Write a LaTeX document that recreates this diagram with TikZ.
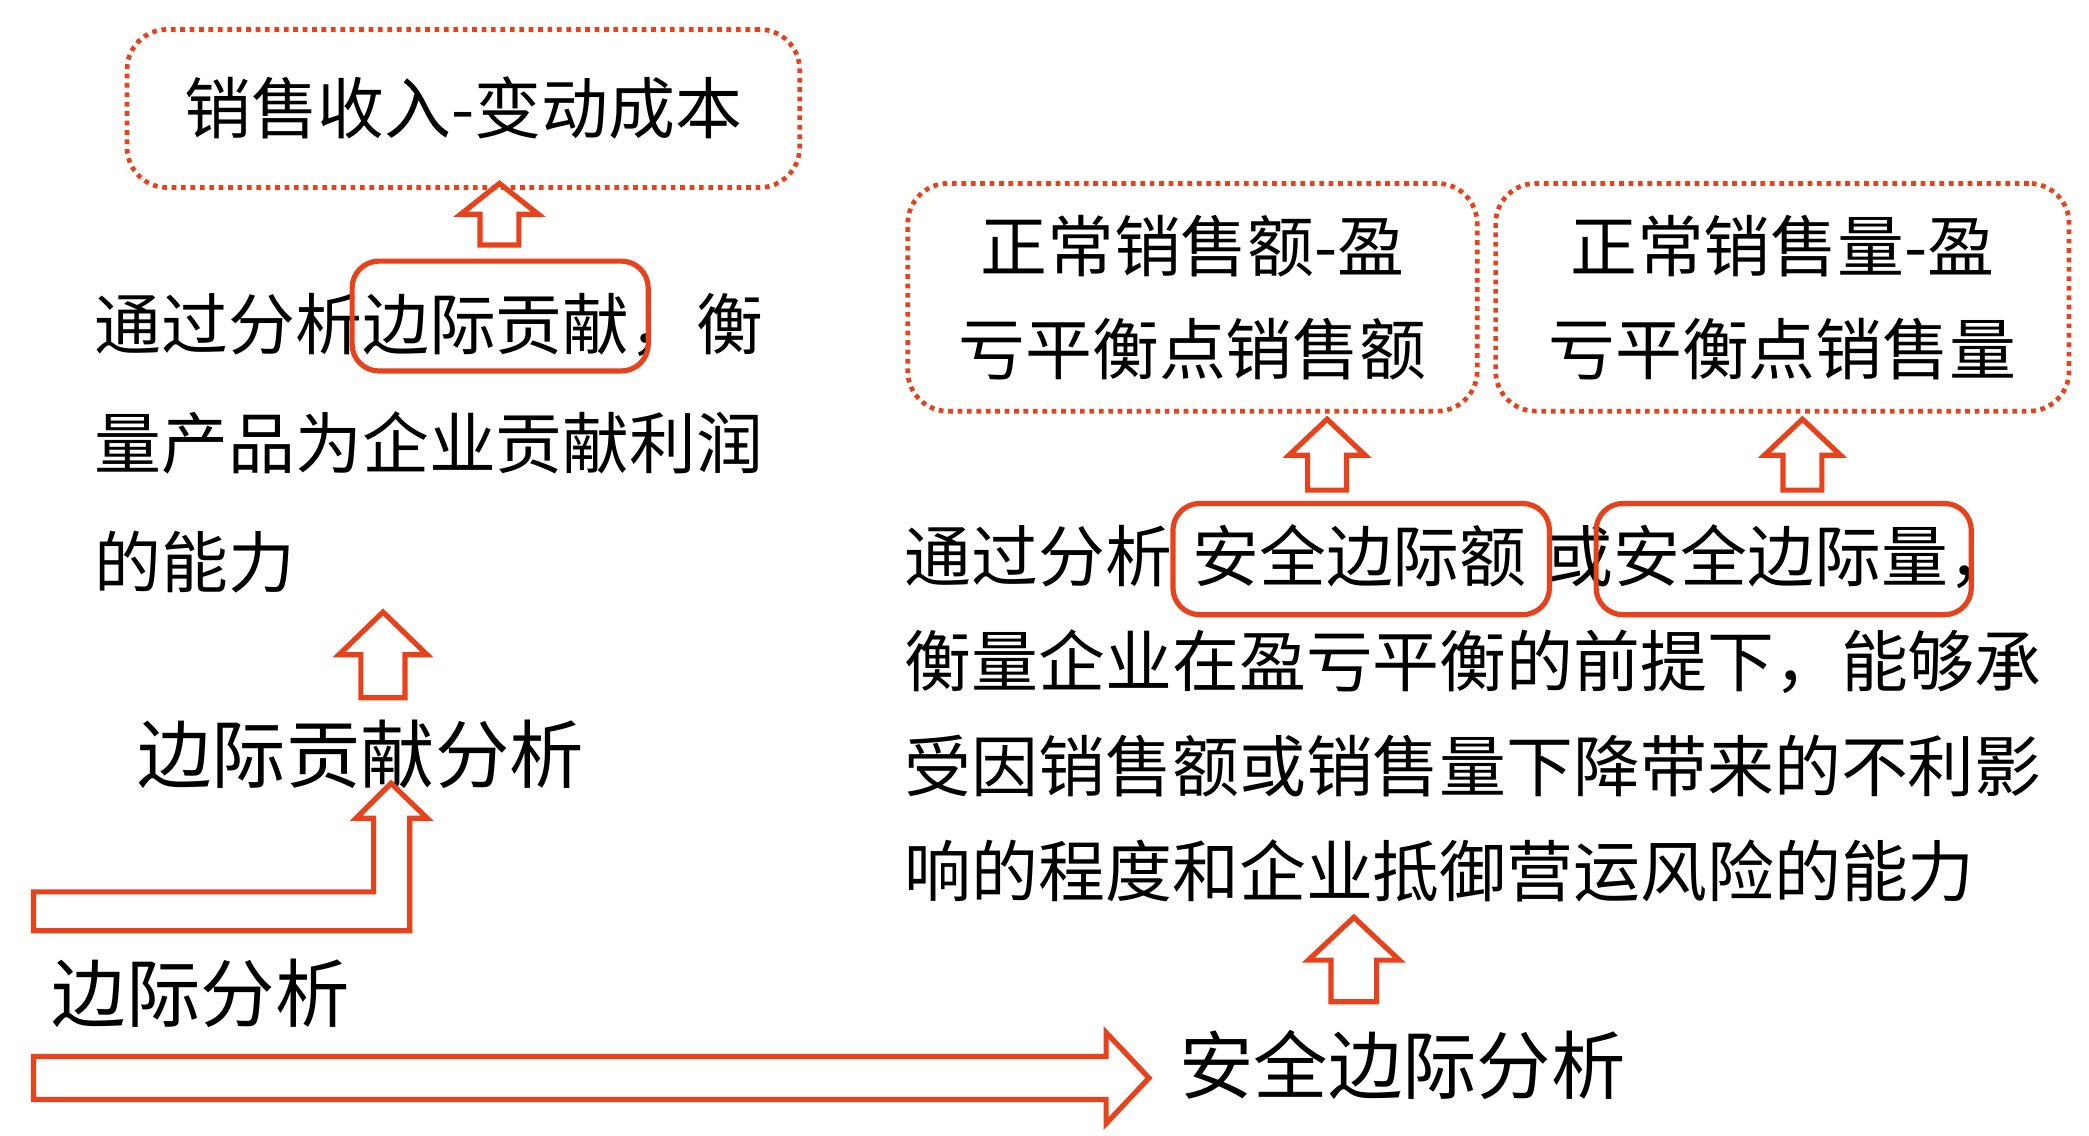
\documentclass[tikz,border=0pt]{standalone}
\usepackage{fontspec}
\newfontfamily\cjk{Noto Sans CJK SC}
\definecolor{arrred}{RGB}{232,66,28}
% hollow up arrow: x, tip, head base, bottom, head half, shaft half
\newcommand{\blockup}[6]{\draw[blockarr] (#1-#6,#4) -- (#1-#6,#3) -- (#1-#5,#3) -- (#1,#2) -- (#1+#5,#3) -- (#1+#6,#3) -- (#1+#6,#4) -- cycle;}

\begin{document}
\begin{tikzpicture}[x=0.01cm,y=-0.01cm,
    dotbox/.style={draw=arrred,dash pattern=on 1pt off 1pt,line width=1pt,rounded corners=0.3cm,inner sep=0pt,align=center,font=\cjk\fontsize{14.2}{21.9}\selectfont},
    hlbox/.style={draw=arrred,line width=1.1pt,rounded corners=0.2cm,inner sep=0pt},
    blockarr/.style={draw=arrred,line width=1.1pt},
    para/.style={anchor=west,align=left,inner sep=0pt},
    big/.style={anchor=west,inner sep=0pt,font=\cjk\fontsize{15.8}{18}\selectfont}]
    \useasboundingbox (0,0) rectangle (1560,848);

    % left part: contribution margin
    \node[dotbox,minimum width=5.02cm,minimum height=1.18cm] (cmbox) at (346,81) {销售收入-变动成本};
    \node[para,font=\cjk\fontsize{14.2}{25.3}\selectfont] (cmtext) at (70,331) {通过分析边际贡献，衡\\量产品为企业贡献利润\\的能力};
    \node[hlbox,minimum width=2.21cm,minimum height=0.82cm] (cmhl) at (373.5,236) {};
    \node[big] (cmana) at (102,563) {边际贡献分析};
    \node[big] (margin) at (38,742) {边际分析};
    \blockup{373}{137}{160}{183}{29}{14.5}
    \blockup{286}{457}{489}{521}{33}{16.5}
    \draw[blockarr] (25,666) -- (279,666) -- (279,611) -- (266,611) -- (292,585) -- (319,611) -- (306,611) -- (306,695) -- (25,695) -- cycle;

    % right part: margin of safety
    \node[dotbox,minimum width=4.25cm,minimum height=1.70cm] (safeamt) at (890.5,222) {正常销售额-盈\\亏平衡点销售额};
    \node[dotbox,minimum width=4.28cm,minimum height=1.70cm] (safeqty) at (1331,222) {正常销售量-盈\\亏平衡点销售量};
    \node[para,font=\cjk\fontsize{14.2}{22.3}\selectfont] (safetext) at (675,532.5) {通过分析\hspace{0.15cm}安全边际额\hspace{0.15cm}或安全边际量，\\衡量企业在盈亏平衡的前提下，能够承\\受因销售额或销售量下降带来的不利影\\响的程度和企业抵御营运风险的能力};
    \node[hlbox,minimum width=2.81cm,minimum height=0.83cm] (safehl1) at (1016.5,417.5) {};
    \node[hlbox,minimum width=2.80cm,minimum height=0.83cm] (safehl2) at (1332,417.5) {};
    \node[big] (safeana) at (880,795) {安全边际分析};
    \blockup{991}{313}{340}{366}{28.5}{14.5}
    \blockup{1346}{313}{340}{366}{28.5}{14.5}
    \blockup{1011}{685}{717}{748}{34}{17}
    \draw[blockarr] (25,789) -- (826,789) -- (826,771) -- (858,805) -- (826,839) -- (826,821) -- (25,821) -- cycle;
\end{tikzpicture}
\end{document}
